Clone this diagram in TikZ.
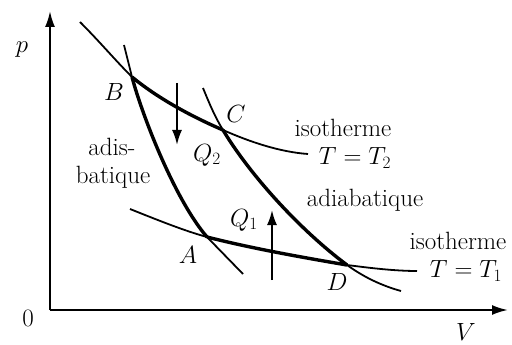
\documentclass[tikz,border=0pt]{standalone}
\usetikzlibrary{arrows.meta}
\begin{document}
\begin{tikzpicture}[x=1pt,y=-1pt,
  thincurve/.style={line width=1.8pt},
  thickcurve/.style={line width=3.4pt},
  lbl/.style={font=\fontsize{25}{28}\selectfont, inner sep=0pt},
  ax/.style={line width=2.2pt,-{Latex[length=16pt,width=10pt]}},
  heat/.style={line width=2pt,-{Latex[length=15pt,width=10pt]}},
  line cap=butt, line join=round]
\useasboundingbox (0,0) rectangle (512,345);
\coordinate (O) at (50,310);
\coordinate (Ptop) at (50,11);
\coordinate (Vend) at (508,310);
\draw[ax] (O) -- (Ptop);
\draw[ax] (O) -- (Vend);
\coordinate (B) at (132,77);
\coordinate (C) at (223,130);
\coordinate (A) at (207,237);
\coordinate (D) at (347,265);
% upper isotherm T2
\coordinate (i2s) at (80,22);
\coordinate (i2e) at (308,154);
\draw[thincurve] (i2s) .. controls (100,42) and (115,60) .. (B);
\draw[thickcurve] (B) .. controls (160,100) and (195,118) .. (C);
\draw[thincurve] (C) .. controls (250,142) and (280,152) .. (i2e);
% lower isotherm T1
\coordinate (i1s) at (130,209);
\coordinate (i1e) at (417,271);
\draw[thincurve] (i1s) .. controls (160,221) and (185,231) .. (A);
\draw[thickcurve] (A) .. controls (250,248) and (300,257) .. (D);
\draw[thincurve] (D) .. controls (370,268) and (395,271) .. (i1e);
% left adiabat
\coordinate (a1s) at (124,45);
\coordinate (a1e) at (243,274);
\draw[thincurve] (a1s) -- (B);
\draw[thickcurve] (B) .. controls (142,115) and (175,200) .. (A);
\draw[thincurve] (A) -- (a1e);
% right adiabat
\coordinate (a2s) at (203,88);
\coordinate (a2e) at (401,291);
\draw[thincurve] (a2s) .. controls (210,105) and (215,117) .. (C);
\draw[thickcurve] (C) .. controls (250,175) and (300,230) .. (D);
\draw[thincurve] (D) .. controls (365,278) and (383,286) .. (a2e);
% heat arrows
\coordinate (Q2s) at (177,83);
\coordinate (Q2e) at (177,145);
\draw[heat] (Q2s) -- (Q2e);
\coordinate (Q1s) at (272,280);
\coordinate (Q1e) at (272,210);
\draw[heat] (Q1s) -- (Q1e);
% labels
\node[lbl] (lp) at (22,50) {$p$};
\node[lbl] (l0) at (28,318) {0};
\node[lbl] (lV) at (466,332) {$V$};
\node[lbl] (lB) at (114,92) {$B$};
\node[lbl] (lC) at (236,114) {$C$};
\node[lbl] (lA) at (188,255) {$A$};
\node[lbl] (lD) at (337,282) {$D$};
\node[lbl] (lQ2) at (207,155) {$Q_2$};
\node[lbl] (lQ1) at (244,220) {$Q_1$};
\node[lbl] (ladis) at (112,147) {adis-};
\node[lbl] (lbat) at (113,177) {batique};
\node[lbl] (liso2) at (343,128) {isotherme};
\node[lbl] (lT2) at (355,158) {$T=T_2$};
\node[lbl] (ladia) at (365,200) {adiabatique};
\node[lbl] (liso1) at (458,241) {isotherme};
\node[lbl] (lT1) at (466,271) {$T=T_1$};
\end{tikzpicture}
\end{document}
